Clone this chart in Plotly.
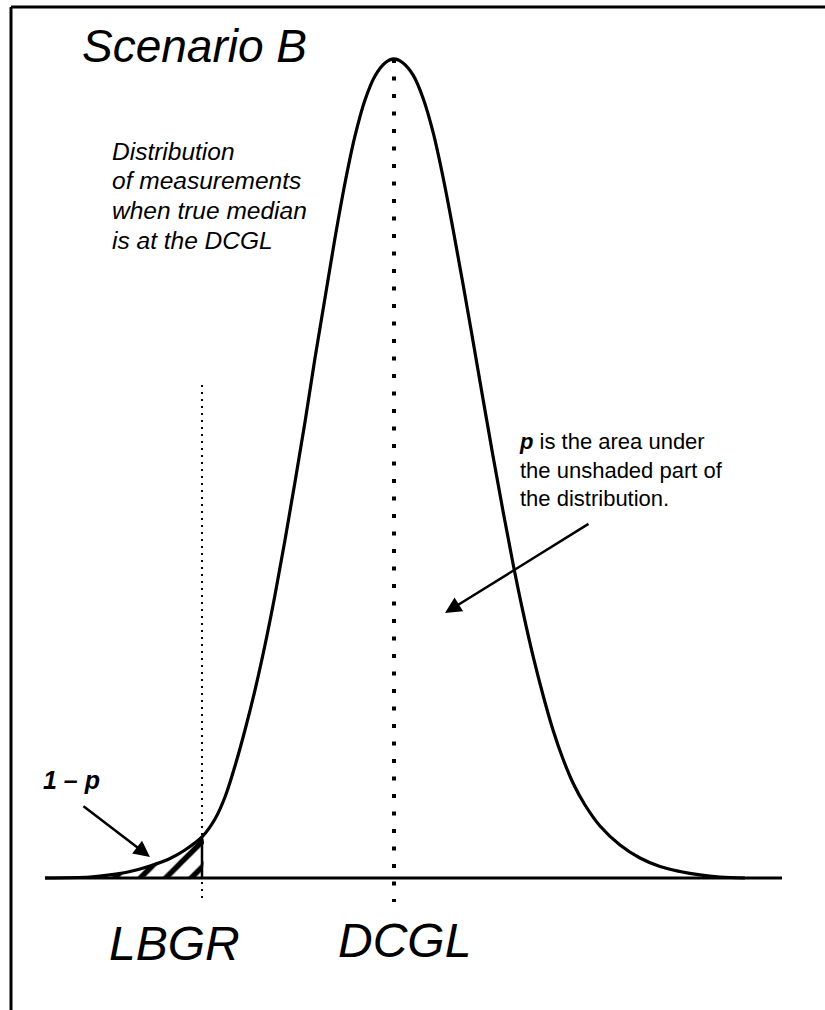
import plotly.graph_objects as go

# Measurement scale: DCGL at 50, relative frequency (peak = 100)
curve_x = [15.1, 19.6, 21.6, 23.6, 25.6, 27.6, 29.1, 30.8, 32.1, 33.1, 34.1, 35.1,
           36.1, 37.1, 38.1, 39.1, 40.1, 41.1, 42.1, 43.1, 44.1, 45.1, 46.1, 47.1,
           48.1, 49.1, 50.0, 50.9, 51.9, 52.9, 53.9, 54.9, 55.9, 56.9, 57.9, 58.9,
           59.9, 60.9, 61.9, 62.9, 63.9, 64.9, 65.9, 66.9, 67.9, 69.1, 70.6, 72.6,
           74.6, 76.6, 78.6, 80.6, 82.6, 85.1]
curve_y = [0.0, 0.12, 0.37, 0.79, 1.47, 2.38, 3.42, 5.01, 7.20, 9.89, 13.68, 18.07,
           22.95, 28.45, 34.55, 41.27, 48.35, 55.68, 63.49, 70.82, 78.14, 84.86, 90.60, 94.99,
           97.92, 99.51, 100.0, 99.51, 98.05, 95.24, 91.09, 85.59, 79.24, 72.53, 65.57, 58.49,
           51.53, 44.81, 38.40, 32.48, 27.11, 22.34, 18.07, 14.53, 11.60, 8.91, 6.35, 4.03,
           2.44, 1.40, 0.79, 0.37, 0.12, 0.0]

LBGR = 30.8
DCGL = 50.0
AXIS_START, AXIS_END = 15.1, 88.8
LBGR_TOP = 60.2
GUIDE_BOTTOM = -2.93

description_lines = ["Distribution", "of measurements", "when true median", "is at the DCGL"]
p_note = "<b><i>p</i></b> is the area under<br>the unshaded part of<br>the distribution."

fig = go.Figure()

# hatched tail: area below LBGR (1 - p)
tail_x = [x for x in curve_x if x <= LBGR]
tail_y = [y for x, y in zip(curve_x, curve_y) if x <= LBGR]
fig.add_trace(go.Scatter(
    x=tail_x + [LBGR], y=tail_y + [0], mode="lines",
    line=dict(width=0, color="black", shape="spline", smoothing=1.0), fill="tozeroy",
    fillcolor="white",
    fillpattern=dict(shape="/", size=18, solidity=0.3, fgcolor="black",
                     bgcolor="white", fgopacity=1),
    hoverinfo="skip", showlegend=False))
# right edge of the hatched tail
fig.add_trace(go.Scatter(x=[LBGR, LBGR], y=[0, tail_y[-1]], mode="lines",
                         line=dict(color="black", width=2.5), showlegend=False))

# horizontal measurement axis
fig.add_trace(go.Scatter(x=[AXIS_START, AXIS_END], y=[0, 0], mode="lines",
                         line=dict(color="black", width=3), showlegend=False))

# dotted guide lines
fig.add_trace(go.Scatter(x=[DCGL, DCGL], y=[100, GUIDE_BOTTOM], mode="lines",
                         line=dict(color="black", width=4, dash="4px,13.5px"), showlegend=False))
fig.add_trace(go.Scatter(x=[LBGR, LBGR], y=[LBGR_TOP, GUIDE_BOTTOM], mode="lines",
                         line=dict(color="black", width=2, dash="2px,5px"), showlegend=False))

# distribution curve
fig.add_trace(go.Scatter(x=curve_x, y=curve_y, mode="lines",
                         line=dict(color="black", width=3.2, shape="spline", smoothing=1.0),
                         showlegend=False))

W, H = 825, 1010
def px(x):
    return x / W
def py(y):
    return 1 - y / H

FONT = "Liberation Sans, Arial, Helvetica, sans-serif"

ann = [
    dict(text="<i>Scenario B</i>", x=px(80), y=py(46), size=46, xanchor="left"),
    dict(text=p_note, x=px(517), y=py(470), size=22, xanchor="left"),
    dict(text="<b><i>1 – p</i></b>", x=px(41), y=py(780), size=25, xanchor="left"),
    dict(text="<i>LBGR</i>", x=px(174), y=py(943), size=48, xanchor="center"),
    dict(text="<i>DCGL</i>", x=px(404), y=py(940), size=48, xanchor="center"),
]
for i, line in enumerate(description_lines):
    ann.append(dict(text="<i>" + line + "</i>", x=px(110), y=py(151 + 29.7 * i),
                    size=24.5, xanchor="left"))

annotations = []
for a in ann:
    annotations.append(dict(
        text=a["text"], x=a["x"], y=a["y"], xref="paper", yref="paper",
        xanchor=a["xanchor"], yanchor="middle", align="left", showarrow=False,
        font=dict(family=FONT, size=a["size"], color="black")))

# pointer arrows
for head, tail in [((445, 613), (590, 523)), ((150, 857), (82, 805))]:
    annotations.append(dict(
        text="", x=px(head[0]), y=py(head[1]), xref="paper", yref="paper",
        ax=tail[0] - head[0], ay=tail[1] - head[1], axref="pixel", ayref="pixel",
        showarrow=True, arrowhead=2, arrowsize=1.3, arrowwidth=2.5, arrowcolor="black"))

shapes = [
    dict(type="line", xref="paper", yref="paper", x0=px(11), x1=1, y0=py(7), y1=py(7),
         line=dict(color="black", width=3)),
    dict(type="line", xref="paper", yref="paper", x0=px(11), x1=px(11), y0=0, y1=py(7),
         line=dict(color="black", width=3)),
]

fig.update_layout(
    width=W, height=H, margin=dict(l=0, r=0, t=0, b=0),
    paper_bgcolor="white", plot_bgcolor="white",
    xaxis=dict(range=[10.6, 93.1], visible=False, fixedrange=True),
    yaxis=dict(range=[-16.12, 107.2], visible=False, fixedrange=True),
    annotations=annotations, shapes=shapes, showlegend=False,
)

fig.write_html("out.html", config={"displayModeBar": False})
